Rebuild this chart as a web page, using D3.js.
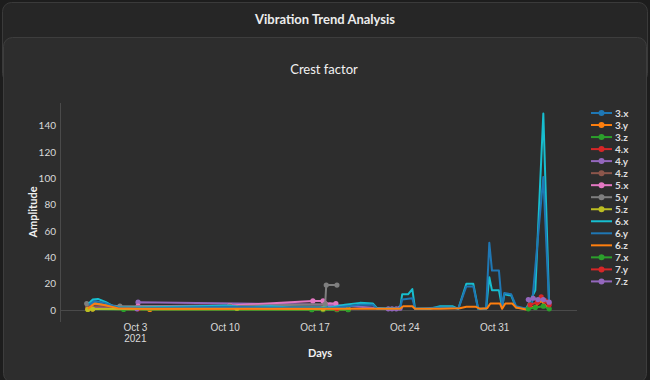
<!DOCTYPE html>
<html><head><meta charset="utf-8">
<script src="https://cdn.jsdelivr.net/npm/d3@7"></script>
<style>
html,body{margin:0;padding:0;background:#1d1d1d;}
svg{display:block;font-family:"Lato","Open Sans",sans-serif;}
</style></head>
<body><svg id="c" width="650" height="380"></svg>
<script>
// ---------- data ----------
const pageTitle = "Vibration Trend Analysis";
const chartTitle = "Crest factor";
const xTitle = "Days";
const yTitle = "Amplitude";
const seriesNames = ["3.x","3.y","3.z","4.x","4.y","4.z","5.x","5.y","5.z","6.x","6.y","6.z","7.x","7.y","7.z"];
const seriesColors = ["#1f77b4","#ff7f0e","#2ca02c","#d62728","#9467bd","#8c564b","#e377c2","#7f7f7f","#bcbd22","#17becf","#1f77b4","#ff7f0e","#2ca02c","#d62728","#9467bd"];
const seriesMarkers = [true,true,true,true,true,true,true,true,true,false,false,false,true,true,true];
const xTickDates = ["2021-10-03","2021-10-10","2021-10-17","2021-10-24","2021-10-31"];
const xTickLabels = [["Oct 3","2021"],["Oct 10"],["Oct 17"],["Oct 24"],["Oct 31"]];
const yTicks = [0,20,40,60,80,100,120,140];
const xRange = ["2021-09-27T04","2021-11-06T11"];
const yRange = [-9,157];

const s3x = [["2021-09-29T08",4],["2021-09-29T17",6],["2021-10-01T16",2],["2021-10-03T06",1.5],["2021-10-18T16",2],["2021-10-19T15",1.5]];
const s3y = [["2021-09-29T08",1],["2021-09-29T17",1],["2021-10-04T04",0.5],["2021-10-16T19",0.5],["2021-10-17T16",0.5],["2021-10-18T18",0.5],["2021-10-19T15",0.5]];
const s3z = [["2021-09-29T08",0.8],["2021-10-02T03",0.5],["2021-10-16T19",0.3],["2021-10-17T16",0.3],["2021-10-18T18",0.3],["2021-10-19T15",0.3]];
const s4x = [["2021-09-29T08",1.5],["2021-10-03T06",1],["2021-10-17T16",1],["2021-10-18T18",1]];
const s4y = [["2021-09-29T10",2],["2021-10-03T04",1],["2021-10-03T06",6],["2021-10-18T05",4],["2021-10-22T18",1],["2021-10-23T01",1],["2021-10-23T09",1],["2021-10-23T16",1.5]];
const s4z = [["2021-09-29T08",3],["2021-10-03T06",2],["2021-10-17T16",2]];
const s5x = [["2021-10-03T06",3],["2021-10-10T10",3.5],["2021-10-16T21",7],["2021-10-17T16",7],["2021-10-17T20",5],["2021-10-18T16",5]];
const s5y = [["2021-09-29T06",5],["2021-10-01T20",3],["2021-10-10T10",3],["2021-10-17T20",4.5],["2021-10-17T22",19],["2021-10-18T18",19]];
const s5z = [["2021-09-29T08",0.5],["2021-09-29T17",0.8],["2021-10-10T23",1.5],["2021-10-17T16",1]];
const s6x = [["2021-09-29T10",5],["2021-09-29T17",8],["2021-09-30T03",8.5],["2021-09-30T18",6],["2021-10-01T07",3],["2021-10-01T20",2],["2021-10-03T09",2],["2021-10-06T12",2.5],["2021-10-10T02",3.5],["2021-10-11T14",2],["2021-10-13T13",3],["2021-10-15T02",2],["2021-10-16T16",2],["2021-10-18T05",2],["2021-10-19T09",4],["2021-10-20T13",5.5],["2021-10-21T13",5],["2021-10-21T21",1.5],["2021-10-23T16",1],["2021-10-23T20",12],["2021-10-24T07",12],["2021-10-24T15",16],["2021-10-24T20",1],["2021-10-26T00",1],["2021-10-26T19",3],["2021-10-27T18",3],["2021-10-28T05",1],["2021-10-28T20",20],["2021-10-29T09",20],["2021-10-29T18",1],["2021-10-30T09",1],["2021-10-30T15",25],["2021-10-30T20",15],["2021-10-31T09",15],["2021-10-31T15",2],["2021-10-31T19",12],["2021-11-01T08",11],["2021-11-01T17",2],["2021-11-02T12",1],["2021-11-03T05",15],["2021-11-03T20",149],["2021-11-04T07",3]];
const s6y = [["2021-09-29T10",4],["2021-09-29T21",7],["2021-09-30T16",5.5],["2021-10-01T16",2],["2021-10-03T09",1.5],["2021-10-10T02",2.5],["2021-10-13T13",2],["2021-10-18T05",1.5],["2021-10-20T13",4],["2021-10-21T13",4],["2021-10-21T21",1],["2021-10-23T16",1],["2021-10-23T20",8],["2021-10-24T15",9],["2021-10-24T20",1],["2021-10-26T19",2],["2021-10-27T18",2],["2021-10-28T05",1],["2021-10-28T20",18],["2021-10-29T09",18],["2021-10-29T18",1],["2021-10-30T09",1],["2021-10-30T15",51],["2021-10-30T20",30],["2021-10-31T09",30],["2021-10-31T15",2],["2021-10-31T19",13],["2021-11-01T08",12],["2021-11-01T17",3],["2021-11-02T12",1],["2021-11-02T23",5],["2021-11-03T20",101],["2021-11-04T07",2]];
const s6z = [["2021-09-29T08",1],["2021-09-29T21",5],["2021-09-30T12",4],["2021-10-01T16",1.5],["2021-10-03T09",1],["2021-10-16T16",1],["2021-10-22T00",1],["2021-10-23T16",1],["2021-10-23T22",3],["2021-10-24T15",3],["2021-10-24T20",1],["2021-10-26T19",1],["2021-10-28T08",1.5],["2021-10-28T20",2.5],["2021-10-29T14",2.5],["2021-10-29T22",1],["2021-10-30T11",1.5],["2021-10-30T17",5],["2021-10-31T11",5],["2021-10-31T15",1],["2021-10-31T21",5],["2021-11-01T10",5],["2021-11-01T17",2],["2021-11-02T12",0.5],["2021-11-03T05",3],["2021-11-03T16",7],["2021-11-04T07",0.5]];
const s7x = [["2021-11-02T16",1],["2021-11-03T05",2],["2021-11-03T20",3],["2021-11-04T07",1]];
const s7y = [["2021-11-02T19",4],["2021-11-03T09",6],["2021-11-03T16",10],["2021-11-04T00",7],["2021-11-04T07",4]];
const s7z = [["2021-11-02T16",8],["2021-11-03T01",9],["2021-11-03T10",8],["2021-11-03T20",8],["2021-11-04T07",6]];
const seriesData = [s3x,s3y,s3z,s4x,s4y,s4z,s5x,s5y,s5z,s6x,s6y,s6z,s7x,s7y,s7z];

// ---------- drawing ----------
const parseT = d3.timeParse("%Y-%m-%dT%H");
const parseD = d3.timeParse("%Y-%m-%d");
const svg = d3.select("#c");
const plot = {l:60, r:577, t:103, b:322};

// cards
svg.append("rect").attr("x",2.5).attr("y",2.5).attr("width",645).attr("height",80).attr("rx",9)
  .attr("fill","#262626").attr("stroke","#3a3a3a");
svg.append("rect").attr("x",3.5).attr("y",37.5).attr("width",643).attr("height",345).attr("rx",9)
  .attr("fill","#2d2d2d").attr("stroke","#3d3d3d");
svg.append("text").attr("x",325).attr("y",19).attr("text-anchor","middle").attr("dominant-baseline","central")
  .attr("fill","#ececec").attr("font-size",13).attr("font-weight",700).text(pageTitle);
svg.append("text").attr("x",324).attr("y",69).attr("text-anchor","middle").attr("dominant-baseline","central")
  .attr("fill","#f2f2f2").attr("font-size",13).text(chartTitle);

const x = d3.scaleTime().domain(xRange.map(parseT)).range([plot.l, plot.r]);
const y = d3.scaleLinear().domain(yRange).range([plot.b, plot.t]);

// y axis line
svg.append("line").attr("x1",plot.l+0.5).attr("x2",plot.l+0.5).attr("y1",plot.t).attr("y2",plot.b)
  .attr("stroke","#4a4a4a").attr("stroke-width",1);
// zero line
svg.append("line").attr("x1",plot.l).attr("x2",plot.r).attr("y1",Math.round(y(0))+0.5).attr("y2",Math.round(y(0))+0.5)
  .attr("stroke","#4a4a4a").attr("stroke-width",1);

// y ticks via axis
const yAxis = svg.append("g").attr("transform",`translate(${plot.l-4},0)`)
  .call(d3.axisLeft(y).tickValues(yTicks).tickSize(0).tickPadding(0));
yAxis.select(".domain").remove();
yAxis.selectAll("text").attr("fill","#dadada").attr("font-size",10).attr("font-family","Lato, 'Open Sans', sans-serif");

// x ticks via axis
const xTickVals = xTickDates.map(parseD);
const xAxis = svg.append("g").attr("transform",`translate(0,${plot.b})`)
  .call(d3.axisBottom(x).tickValues(xTickVals).tickSize(0).tickPadding(0).tickFormat(""));
xAxis.select(".domain").remove();
xAxis.selectAll(".tick").each(function(d,i){
  const g = d3.select(this);
  xTickLabels[i].forEach((t,j)=>{
    g.append("text").attr("x",0).attr("y",5+j*11.5).attr("text-anchor","middle").attr("dominant-baseline","central")
      .attr("fill","#dadada").attr("font-size",10).text(t);
  });
});

// axis titles
svg.append("text").attr("transform","translate(32,212) rotate(-90)").attr("text-anchor","middle").attr("dominant-baseline","central")
  .attr("fill","#f0f0f0").attr("font-size",11).attr("font-weight",700).text(yTitle);
svg.append("text").attr("x",320).attr("y",352).attr("text-anchor","middle").attr("dominant-baseline","central")
  .attr("fill","#f0f0f0").attr("font-size",11).attr("font-weight",700).text(xTitle);

// clip
svg.append("clipPath").attr("id","clip").append("rect")
  .attr("x",plot.l).attr("y",plot.t).attr("width",plot.r-plot.l).attr("height",plot.b-plot.t);
const gData = svg.append("g").attr("clip-path","url(#clip)");
const line = d3.line().x(d=>x(parseT(d[0]))).y(d=>y(d[1]));

seriesData.forEach((s,i)=>{
  const g = gData.append("g");
  g.append("path").attr("d",line(s)).attr("fill","none").attr("stroke",seriesColors[i])
    .attr("stroke-width",2).attr("stroke-linejoin","round");
  if(seriesMarkers[i]){
    g.selectAll("circle").data(s).join("circle")
      .attr("cx",d=>x(parseT(d[0]))).attr("cy",d=>y(d[1])).attr("r",2.6).attr("fill",seriesColors[i]);
  }
});

// legend
const leg = svg.append("g");
seriesNames.forEach((n,i)=>{
  const yy = 113 + i*12.03;
  const g = leg.append("g").attr("transform",`translate(0,${yy})`);
  g.append("line").attr("x1",591).attr("x2",612).attr("y1",0).attr("y2",0).attr("stroke",seriesColors[i]).attr("stroke-width",2);
  if(seriesMarkers[i]) g.append("circle").attr("cx",601.5).attr("cy",0).attr("r",3).attr("fill",seriesColors[i]);
  g.append("text").attr("x",615).attr("y",0).attr("dominant-baseline","central").attr("fill","#dedede")
    .attr("font-size",10).attr("font-weight",700).text(n);
});
</script></body></html>
